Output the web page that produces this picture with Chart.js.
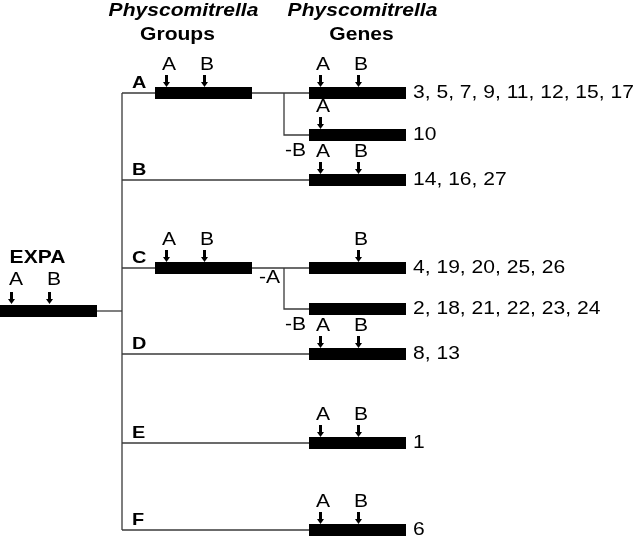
<!DOCTYPE html>
<html>
<head>
<meta charset="utf-8">
<script src="https://cdn.jsdelivr.net/npm/chart.js@4"></script>
<style>
    body { margin: 0; background: #fff; }
    #wrap { width: 640px; height: 537px; position: relative; }
</style>
</head>
<body>
<div id="wrap"><canvas id="tree"></canvas></div>
<script>
// groups of the tree (one branch each off the trunk)
const groupNames = ['A', 'B', 'C', 'D', 'E', 'F'];
const groupRows = [93, 180, 268, 354, 443, 530];
const groupHasDomain = [true, false, true, false, false, false];
const groupMotifs = [['A', 'B'], [], ['A', 'B'], [], [], []];

// genes, each in one group
const geneLabels = [
    '3, 5, 7, 9, 11, 12, 15, 17',
    '10',
    '14, 16, 27',
    '4, 19, 20, 25, 26',
    '2, 18, 21, 22, 23, 24',
    '8, 13',
    '1',
    '6'
];
const geneRows = [93, 135, 180, 268, 309, 354, 443, 530];
const geneGroup = [0, 0, 1, 2, 2, 3, 4, 5];
const geneMotifs = [['A', 'B'], ['A'], ['A', 'B'], ['B'], [], ['A', 'B'], ['A', 'B'], ['A', 'B']];
const geneLoss = ['', '-B', '', '-A', '-B', '', '', ''];

// the EXPA root
const rootLabel = 'EXPA';
const rootRow = 311;
const rootMotifs = ['A', 'B'];

// motif position along a domain
const motifOffset = { A: 12, B: 50 };

(function() {
    const domainLen = 97;
    const rootX = 0;
    const trunkX = 122;
    const groupX = 155;
    const junctionX = 284;
    const geneX = 309;
    const labelX = 413;
    const stretch = 1.17;
    const fontFamily = "'Liberation Sans', Arial, Helvetica, sans-serif";

    function segment(points, width, color, order) {
        return {
            type: 'scatter',
            data: points.map(function(p) { return { x: p[0], y: p[1] }; }),
            showLine: true,
            borderColor: color,
            borderWidth: width,
            borderCapStyle: 'butt',
            pointRadius: 0,
            fill: false,
            clip: false,
            order: order
        };
    }

    function makeArrow() {
        const c = document.createElement('canvas');
        c.width = 8;
        c.height = 12;
        const g = c.getContext('2d');
        g.fillStyle = '#000';
        g.fillRect(2, 0, 3, 7);
        g.beginPath();
        g.moveTo(0, 7);
        g.lineTo(7, 7);
        g.lineTo(3.5, 12);
        g.closePath();
        g.fill();
        return c;
    }

    const lines = [];
    const bars = [];
    const arrows = [];
    const texts = [];

    // root
    bars.push([[rootX, rootRow], [rootX + domainLen, rootRow]]);
    lines.push([[rootX + domainLen, rootRow], [trunkX, rootRow]]);
    rootMotifs.forEach(function(m) {
        arrows.push({ x: rootX + motifOffset[m], y: rootRow - 13 });
        texts.push({ t: m, x: rootX + motifOffset[m] + 4, y: rootRow - 31, font: '18px', align: 'center' });
    });
    texts.push({ t: rootLabel, x: 37.5, y: rootRow - 52.5, font: 'bold 18px', align: 'center' });

    // trunk
    lines.push([[trunkX, groupRows[0]], [trunkX, groupRows[groupRows.length - 1]]]);

    groupRows.forEach(function(row, i) {
        if (groupHasDomain[i]) {
            lines.push([[trunkX, row], [groupX, row]]);
            bars.push([[groupX, row], [groupX + domainLen, row]]);
            lines.push([[groupX + domainLen, row], [geneX, row]]);
        } else {
            lines.push([[trunkX, row], [geneX, row]]);
        }
        groupMotifs[i].forEach(function(m) {
            arrows.push({ x: groupX + motifOffset[m], y: row - 12 });
            texts.push({ t: m, x: groupX + motifOffset[m] + 2, y: row - 28, font: '18px', align: 'center' });
        });
        texts.push({ t: groupNames[i], x: 132, y: row - 10, font: 'bold 17px', align: 'left' });
    });

    geneRows.forEach(function(row, i) {
        const g = geneGroup[i];
        const first = geneGroup.indexOf(g) === i;
        if (!first) {
            lines.push([[junctionX, groupRows[g]], [junctionX, row], [geneX, row]]);
        }
        bars.push([[geneX, row], [geneX + domainLen, row]]);
        geneMotifs[i].forEach(function(m) {
            arrows.push({ x: geneX + motifOffset[m], y: row - 12 });
            texts.push({ t: m, x: geneX + motifOffset[m] + 2, y: row - 28, font: '18px', align: 'center' });
        });
        texts.push({ t: geneLabels[i], x: labelX, y: row, font: '18px', align: 'left' });
        if (geneLoss[i]) {
            if (first) {
                texts.push({ t: geneLoss[i], x: junctionX - 4, y: row + 10, font: '18px', align: 'right' });
            } else {
                texts.push({ t: geneLoss[i], x: junctionX + 1, y: row + 16, font: '18px', align: 'left' });
            }
        }
    });

    // headers
    texts.push({ t: 'Physcomitrella', x: 183.5, y: 11, font: 'italic bold 18px', align: 'center' });
    texts.push({ t: 'Groups', x: 177.5, y: 35, font: 'bold 18px', align: 'center' });
    texts.push({ t: 'Physcomitrella', x: 362.5, y: 11, font: 'italic bold 18px', align: 'center' });
    texts.push({ t: 'Genes', x: 361.5, y: 35, font: 'bold 18px', align: 'center' });

    const datasets = [];
    lines.forEach(function(p) { datasets.push(segment(p, 1.3, '#3a3a3a', 3)); });
    bars.forEach(function(p) { datasets.push(segment(p, 12, '#000', 2)); });
    datasets.push({
        type: 'scatter',
        data: arrows,
        pointStyle: makeArrow(),
        pointRadius: 4,
        clip: false,
        order: 1
    });

    const labelPlugin = {
        id: 'labels',
        afterDraw: function(chart) {
            const ctx = chart.ctx;
            const xs = chart.scales.x;
            const ys = chart.scales.y;
            texts.forEach(function(t) {
                ctx.save();
                ctx.translate(xs.getPixelForValue(t.x), ys.getPixelForValue(t.y));
                ctx.scale(stretch, 1);
                ctx.font = t.font + ' ' + fontFamily;
                ctx.fillStyle = '#000';
                ctx.textAlign = t.align;
                ctx.textBaseline = 'middle';
                ctx.fillText(t.t, 0, 0);
                ctx.restore();
            });
        }
    };

    window.treeChart = new Chart(document.getElementById('tree'), {
        type: 'scatter',
        data: { datasets: datasets },
        options: {
            responsive: true,
            maintainAspectRatio: false,
            animation: false,
            layout: { padding: 0, autoPadding: false },
            plugins: {
                legend: { display: false },
                tooltip: { enabled: false }
            },
            scales: {
                x: { type: 'linear', min: 0, max: 640, display: false },
                y: { type: 'linear', min: 0, max: 537, reverse: true, display: false }
            }
        },
        plugins: [labelPlugin]
    });
})();
</script>
</body>
</html>
